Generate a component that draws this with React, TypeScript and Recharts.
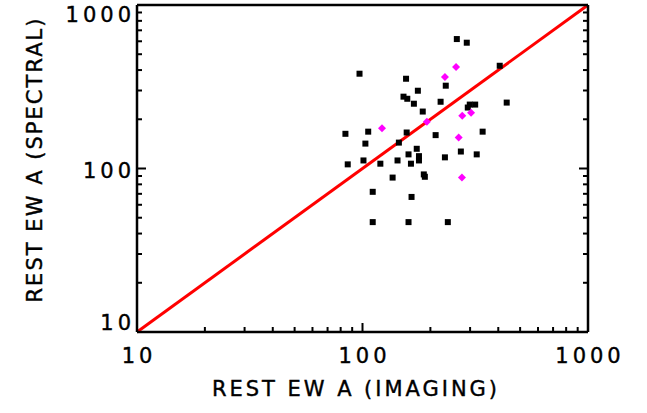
import { ScatterChart, Scatter, XAxis, YAxis, ReferenceLine } from "recharts";

// tick values (log axes, 10..1000)
const majorTicks = [10, 100, 1000];
const minorTicks = [20, 30, 40, 50, 60, 70, 80, 90, 200, 300, 400, 500, 600, 700, 800, 900];
const allTicks = [...majorTicks, ...minorTicks].sort((a, b) => a - b);

// black squares: rest EW from imaging vs spectral
const blackImaging = [
  262, 290, 406, 97, 156, 234, 176, 152, 158, 169, 222, 299, 316, 293, 436, 185, 341, 84, 106, 157, 211,
  103, 145, 174, 160, 178, 178, 273, 321, 101, 143, 232, 86, 120, 164, 136, 187, 189, 111, 165, 111, 160, 239,
];
const blackSpectral = [
  619, 588, 425, 380, 354, 321, 299, 275, 267, 249, 256, 246, 246, 236, 253, 223, 168, 163, 168, 166, 160,
  142, 144, 132, 122, 119, 112, 127, 122, 112, 112, 117, 106, 107, 107, 88, 92, 89, 72, 67, 47, 47, 47,
];

// magenta diamonds
const magentaImaging = [260, 232, 193, 277, 303, 122, 267, 276];
const magentaSpectral = [418, 363, 193, 210, 219, 176, 155, 88];

// one-to-one line
const oneToOne = [10, 1000];

const blackPoints = blackImaging.map((x, i) => ({ x, y: blackSpectral[i] }));
const magentaPoints = magentaImaging.map((x, i) => ({ x, y: magentaSpectral[i] }));

const FONT = "'DejaVu Sans', Verdana, sans-serif";
const FS = 21;
const LS = 4;

const isMajor = (v: number) => majorTicks.includes(v);

function BottomTick(props: any) {
  const { x, y, payload } = props;
  const major = isMajor(payload.value);
  return (
    <g>
      <line x1={x} y1={y} x2={x} y2={y - (major ? 9 : 5)} stroke="#000" strokeWidth={2} />
      {major && (
        <text x={x + LS / 2} y={y + 31} textAnchor="middle" fontFamily={FONT} fontSize={FS} letterSpacing={LS}
          fill="#000" stroke="#000" strokeWidth={0.4}>
          {payload.value}
        </text>
      )}
    </g>
  );
}

function TopTick(props: any) {
  const { x, y, payload } = props;
  const major = isMajor(payload.value);
  return <line x1={x} y1={y} x2={x} y2={y + (major ? 9 : 5)} stroke="#000" strokeWidth={2} />;
}

const leftLabelDy: Record<number, number> = { 1000: 17, 100: 9.5, 10: -2 };

function LeftTick(props: any) {
  const { x, y, payload } = props;
  const major = isMajor(payload.value);
  return (
    <g>
      <line x1={x} y1={y} x2={x + (major ? 9 : 5)} y2={y} stroke="#000" strokeWidth={2} />
      {major && (
        <text x={x - 2} y={y + leftLabelDy[payload.value]} textAnchor="end" fontFamily={FONT} fontSize={FS}
          letterSpacing={LS} fill="#000" stroke="#000" strokeWidth={0.4}>
          {payload.value}
        </text>
      )}
    </g>
  );
}

function RightTick(props: any) {
  const { x, y, payload } = props;
  const major = isMajor(payload.value);
  return <line x1={x} y1={y} x2={x - (major ? 9 : 5)} y2={y} stroke="#000" strokeWidth={2} />;
}

function XTitle(props: any) {
  const vb = props.viewBox;
  return (
    <text x={vb.x + vb.width / 2 - 8} y={vb.y + 64} textAnchor="middle" fontFamily={FONT} fontSize={FS}
      textLength={285} lengthAdjust="spacing" fill="#000" stroke="#000" strokeWidth={0.4}>
      REST EW A (IMAGING)
    </text>
  );
}

function YTitle(props: any) {
  const vb = props.viewBox;
  const cx = 42;
  const cy = vb.y + vb.height / 2 - 8;
  return (
    <text x={cx} y={cy} transform={`rotate(-90, ${cx}, ${cy})`} textAnchor="middle" fontFamily={FONT} fontSize={FS}
      textLength={284} lengthAdjust="spacing" fill="#000" stroke="#000" strokeWidth={0.4}>
      REST EW A (SPECTRAL)
    </text>
  );
}

function Square(props: any) {
  const { cx, cy } = props;
  return <rect x={cx - 3} y={cy - 3} width={6} height={6} fill="#000" />;
}

function Diamond(props: any) {
  const { cx, cy } = props;
  const r = 4;
  return <polygon points={`${cx},${cy - r} ${cx + r},${cy} ${cx},${cy + r} ${cx - r},${cy}`} fill="#ff00ff" />;
}

const axisLine = { stroke: "#000", strokeWidth: 2.5 };

export default function App() {
  return (
    <div style={{ position: "absolute", left: 0, top: 0, background: "#fff" }}>
      <ScatterChart width={647} height={413} margin={{ top: 4, right: 58, bottom: 80, left: 136 }}>
        <XAxis xAxisId="b" dataKey="x" type="number" scale="log" domain={[10, 1000]} ticks={allTicks}
          allowDataOverflow interval={0} height={1} tickSize={0} tickMargin={0} axisLine={axisLine}
          tickLine={false} tick={<BottomTick />} label={{ content: XTitle }} />
        <XAxis xAxisId="t" orientation="top" type="number" scale="log" domain={[10, 1000]} ticks={allTicks}
          allowDataOverflow interval={0} height={1} tickSize={0} tickMargin={0} axisLine={axisLine}
          tickLine={false} tick={<TopTick />} />
        <YAxis yAxisId="l" dataKey="y" type="number" scale="log" domain={[10, 1000]} ticks={allTicks}
          allowDataOverflow interval={0} width={1} tickSize={0} tickMargin={0} axisLine={axisLine}
          tickLine={false} tick={<LeftTick />} label={{ content: YTitle }} />
        <YAxis yAxisId="r" orientation="right" type="number" scale="log" domain={[10, 1000]} ticks={allTicks}
          allowDataOverflow interval={0} width={1} tickSize={0} tickMargin={0} axisLine={axisLine}
          tickLine={false} tick={<RightTick />} />
        <ReferenceLine xAxisId="b" yAxisId="l"
          segment={[{ x: oneToOne[0], y: oneToOne[0] }, { x: oneToOne[1], y: oneToOne[1] }]}
          stroke="#ff0000" strokeWidth={3} ifOverflow="visible" />
        <Scatter xAxisId="b" yAxisId="l" data={blackPoints} shape={<Square />} isAnimationActive={false} />
        <Scatter xAxisId="b" yAxisId="l" data={magentaPoints} shape={<Diamond />} isAnimationActive={false} />
      </ScatterChart>
    </div>
  );
}
